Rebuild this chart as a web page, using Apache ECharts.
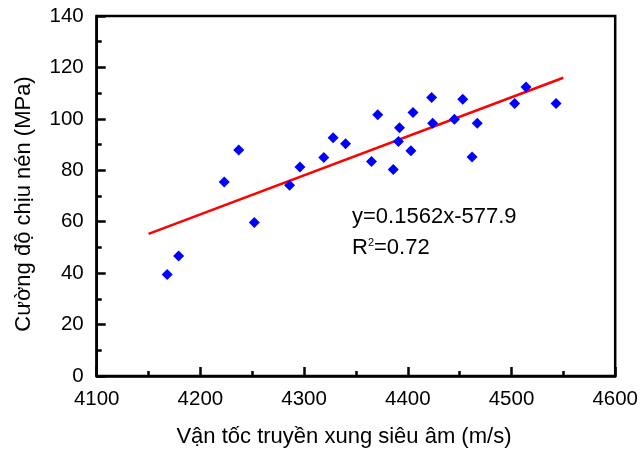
<!DOCTYPE html>
<html>
<head>
<meta charset="utf-8">
<script src="https://cdn.jsdelivr.net/npm/echarts@6/dist/echarts.min.js"></script>
<style>
html,body{margin:0;padding:0;background:#fff;}
#chart{width:641px;height:453px;}
</style>
</head>
<body>
<div id="chart"></div>
<script>
// Measured data: ultrasonic pulse velocity (m/s) vs compressive strength (MPa)
var velocity = [4168, 4179, 4223, 4237, 4252, 4286, 4296, 4319, 4328, 4340,
                4365, 4371, 4386, 4391, 4392, 4403, 4405, 4423, 4424, 4445,
                4453, 4462, 4467, 4503, 4514, 4543];
var strength = [39.5, 46.7, 75.4, 87.9, 59.7, 74.2, 81.3, 85.0, 92.7, 90.3,
                83.4, 101.6, 80.3, 91.2, 96.5, 87.6, 102.5, 108.3, 98.3, 99.8,
                107.6, 85.2, 98.3, 106.0, 112.4, 106.0];
// Fitted line endpoints as drawn
var fitX = [4150, 4550];
var fitY = [55.3, 116.0];
var xTicks = [4100, 4200, 4300, 4400, 4500, 4600];
var yTicks = [0, 20, 40, 60, 80, 100, 120, 140];
var xTitle = 'Vận tốc truyền xung siêu âm (m/s)';
var yTitle = 'Cường độ chịu nén (MPa)';
var eqLine1 = 'y=0.1562x-577.9';
var eqLine2 = '0.72';

var FONT = '"Liberation Sans", Arial, sans-serif';
var scatterData = velocity.map(function (v, i) { return [v, strength[i]]; });
var fitData = fitX.map(function (v, i) { return [v, fitY[i]]; });

var chart = echarts.init(document.getElementById('chart'), null, {renderer: 'canvas'});
var axisCommon = {
  axisLine: {show: true, onZero: false, lineStyle: {color: '#000', width: 2.5}},
  splitLine: {show: false}
};
chart.setOption({
  animation: false,
  backgroundColor: '#fff',
  grid: {left: 96.7, right: 25.5, top: 16, bottom: 73.7, containLabel: false,
         show: true, borderColor: '#000', borderWidth: 2.5},
  xAxis: Object.assign({
    type: 'value', min: xTicks[0], max: xTicks[xTicks.length - 1], interval: 100,
    name: xTitle, nameLocation: 'middle', nameGap: 50,
    nameTextStyle: {fontFamily: FONT, fontSize: 22, color: '#000', padding: [0, 24, 0, 0]},
    axisTick: {show: true, inside: true, length: 9, lineStyle: {color: '#000', width: 2.5}},
    minorTick: {show: true, splitNumber: 2, length: 5, lineStyle: {color: '#000', width: 2.5}},
    axisLabel: {fontFamily: FONT, fontSize: 20.5, color: '#000', margin: 13,
                formatter: function (v) { return String(v); }}
  }, axisCommon),
  yAxis: Object.assign({
    type: 'value', min: yTicks[0], max: yTicks[yTicks.length - 1], interval: 20,
    name: yTitle, nameLocation: 'middle', nameGap: 62, nameRotate: 90,
    nameTextStyle: {fontFamily: FONT, fontSize: 22, color: '#000', padding: [0, 16, 0, 0]},
    axisTick: {show: true, inside: true, length: 9, lineStyle: {color: '#000', width: 2.5}},
    minorTick: {show: true, splitNumber: 2, length: 5, lineStyle: {color: '#000', width: 2.5}},
    axisLabel: {fontFamily: FONT, fontSize: 20.5, color: '#000', margin: 13,
                formatter: function (v) { return String(v); }}
  }, axisCommon),
  series: [
    {
      type: 'line', data: fitData, showSymbol: false, symbol: 'none',
      lineStyle: {color: '#ff0000', width: 2.5}, z: 2
    },
    {
      type: 'scatter', data: scatterData, symbol: 'diamond', symbolSize: 11,
      itemStyle: {color: '#0000ff', opacity: 1}, z: 3
    }
  ],
  graphic: [
    {
      type: 'text', left: 352, top: 206,
      style: {text: eqLine1, font: '22px ' + FONT, fill: '#000'}
    },
    {
      type: 'text', left: 352, top: 237,
      style: {
        text: '{r|R}{s|2}{r|=' + eqLine2 + '}',
        rich: {
          r: {font: '22px ' + FONT, fill: '#000', verticalAlign: 'bottom'},
          s: {font: '11px ' + FONT, fill: '#000', verticalAlign: 'top', padding: [0, 0, 10, 0]}
        }
      }
    }
  ]
});
</script>
</body>
</html>
